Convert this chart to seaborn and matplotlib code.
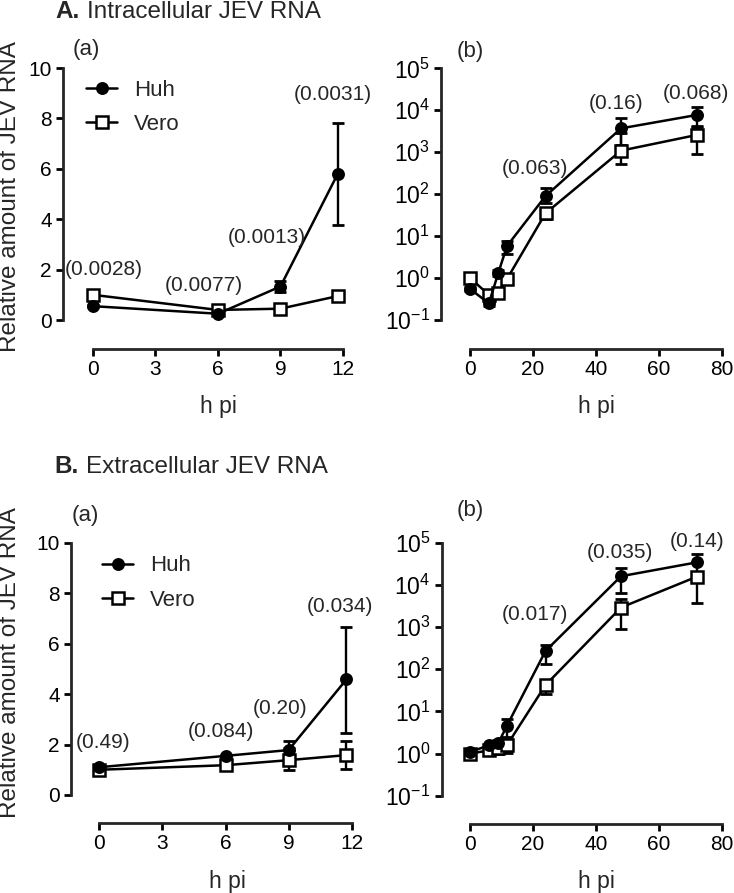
import matplotlib
matplotlib.use('Agg')
import matplotlib.pyplot as plt
import numpy as np
import seaborn as sns
from matplotlib.ticker import FixedLocator, NullLocator

# hours post infection (last early point sits a bit left of 12)
hours = [0, 6, 9, 11.75, 24, 48, 72]

# A. intracellular JEV RNA
intra_huh = [0.55, 0.25, 1.33, 5.8, 90, 3700, 7700]
intra_huh_lo = [0.5, 0.22, 1.1, 3.77, 60, 1500, 4000]
intra_huh_hi = [0.6, 0.28, 1.55, 7.8, 138, 6400, 11700]
intra_vero = [1.0, 0.4, 0.45, 0.95, 35, 1090, 2570]
intra_vero_lo = [0.9, 0.35, 0.38, 0.75, 25, 510, 910]
intra_vero_hi = [1.1, 0.45, 0.52, 1.15, 45, 2800, 4200]
intra_p_early = ['(0.0028)', '(0.0077)', '(0.0013)', '(0.0031)']
intra_p_late = ['(0.063)', '(0.16)', '(0.068)']

# B. extracellular JEV RNA
extra_huh = [1.1, 1.55, 1.78, 4.58, 270, 16000, 34000]
extra_huh_lo = [1.0, 1.5, 1.45, 2.47, 130, 6400, 20000]
extra_huh_hi = [1.2, 1.6, 2.15, 6.65, 380, 24500, 53000]
extra_vero = [1.0, 1.18, 1.38, 1.58, 42, 2900, 15500]
extra_vero_lo = [0.9, 1.05, 1.0, 1.02, 26, 920, 3700]
extra_vero_hi = [1.1, 1.3, 1.85, 2.12, 53, 4500, 19500]
extra_p_early = ['(0.49)', '(0.084)', '(0.20)', '(0.034)']
extra_p_late = ['(0.017)', '(0.035)', '(0.14)']

sns.set_style('ticks')
plt.rcParams['font.family'] = ['Liberation Sans', 'DejaVu Sans']
plt.rcParams['mathtext.default'] = 'regular'
plt.rcParams['axes.unicode_minus'] = False

W, H = 734, 893
fig = plt.figure(figsize=(W / 100, H / 100), dpi=100)


def px_axes(left, right, bottom, top):
    # axes rect given in pixel coordinates (origin top-left)
    return fig.add_axes([left / W, 1 - bottom / H, (right - left) / W, (bottom - top) / H])


def draw_series(ax, x, y, lo, hi, marker, face, ms, label):
    y = np.asarray(y, dtype=float)
    yerr = [y - np.asarray(lo), np.asarray(hi) - y]
    ax.errorbar(x, y, yerr=yerr, fmt='none', ecolor='black', elinewidth=1.7,
                capsize=4, capthick=2, zorder=2, clip_on=False)
    sns.lineplot(x=x, y=y, ax=ax, color='black', linewidth=1.8, marker=marker,
                 markersize=ms, markerfacecolor=face, markeredgecolor='black',
                 markeredgewidth=1.8, estimator=None, sort=False, legend=False,
                 label=label, zorder=3, clip_on=False)


def style_axes(ax, xb, yb, ysize=15):
    for s in ['top', 'right']:
        ax.spines[s].set_visible(False)
    ax.spines['left'].set_linewidth(2)
    ax.spines['bottom'].set_linewidth(2)
    ax.spines['bottom'].set_bounds(*xb)
    ax.spines['left'].set_bounds(*yb)
    ax.tick_params(direction='out', length=5, width=2, labelsize=15, pad=3, colors='black')
    ax.tick_params(axis='y', labelsize=ysize)
    ax.set_xlabel('h pi', fontsize=16.5)


def early_panel(ax, huh, huh_lo, huh_hi, vero, vero_lo, vero_hi, notes, note_xy):
    n = 4
    draw_series(ax, hours[:n], vero[:n], vero_lo[:n], vero_hi[:n], 's', 'white', 8.5, 'Vero')
    draw_series(ax, hours[:n], huh[:n], huh_lo[:n], huh_hi[:n], 'o', 'black', 7.5, 'Huh')
    ax.xaxis.set_major_locator(FixedLocator([0, 3, 6, 9, 12]))
    ax.yaxis.set_major_locator(FixedLocator([0, 2, 4, 6, 8, 10]))
    style_axes(ax, (0, 12), (0, 10))
    for t, (x, y) in zip(notes, note_xy):
        ax.text(x, y, t, ha='center', va='center', fontsize=15)
    h, l = ax.get_legend_handles_labels()
    order = [l.index('Huh'), l.index('Vero')]
    return [h[i] for i in order], [l[i] for i in order]


def late_panel(ax, huh, huh_lo, huh_hi, vero, vero_lo, vero_hi, notes, note_xy):
    ax.set_yscale('log')
    draw_series(ax, hours, vero, vero_lo, vero_hi, 's', 'white', 8.5, 'Vero')
    draw_series(ax, hours, huh, huh_lo, huh_hi, 'o', 'black', 7.5, 'Huh')
    ax.xaxis.set_major_locator(FixedLocator([0, 20, 40, 60, 80]))
    ax.yaxis.set_major_locator(FixedLocator([1e-1, 1e0, 1e1, 1e2, 1e3, 1e4, 1e5]))
    ax.yaxis.set_minor_locator(NullLocator())
    style_axes(ax, (0, 80), (1e-1, 1e5), ysize=16.5)
    for t, (x, y) in zip(notes, note_xy):
        ax.text(x, y, t, ha='center', va='center', fontsize=15)


leg_kw = dict(loc='upper left', frameon=False, fontsize=16, handlelength=1.4,
              handletextpad=0.75, labelspacing=0.6, borderpad=0, borderaxespad=0)

# ---- A ----
ax1 = px_axes(63, 355, 349, 60)
ax1.set_xlim(-1.44, 12.58)
ax1.set_ylim(-1.15, 10.32)
hh, ll = early_panel(ax1, intra_huh, intra_huh_lo, intra_huh_hi, intra_vero, intra_vero_lo,
                     intra_vero_hi, intra_p_early,
                     [(0.5, 2.0), (5.3, 1.39), (8.35, 3.28), (11.5, 8.96)])
ax1.legend(hh, ll, bbox_to_anchor=(0.079, 0.932), **leg_kw)
ax1.text(0.079, 1.035, '(a)', transform=ax1.transAxes, ha='center', va='center', fontsize=16)
ax1.set_ylabel('Relative amount of JEV RNA', fontsize=17.5)
ax1.yaxis.set_label_coords(-0.182, 0.529)
ax1.yaxis.label.set_va('center')
ax1.xaxis.set_label_coords(0.531, -0.222)
ax1.xaxis.label.set_va('baseline')

ax2 = px_axes(441, 728, 349, 60)
ax2.set_xlim(-9.22, 82.0)
ax2.set_ylim(10 ** -1.691, 10 ** 5.198)
late_panel(ax2, intra_huh, intra_huh_lo, intra_huh_hi, intra_vero, intra_vero_lo,
           intra_vero_hi, intra_p_late,
           [(20.5, 10 ** 2.62), (46.4, 10 ** 4.17), (71.7, 10 ** 4.41)])
ax2.text(0.101, 1.031, '(b)', transform=ax2.transAxes, ha='center', va='center', fontsize=16)
ax2.set_ylabel('')
ax2.xaxis.set_label_coords(0.540, -0.222)
ax2.xaxis.label.set_va('baseline')

# ---- B ----
ax3 = px_axes(71, 362, 823, 530)
ax3.set_xlim(-1.346, 12.49)
ax3.set_ylim(-1.11, 10.5)
hh, ll = early_panel(ax3, extra_huh, extra_huh_lo, extra_huh_hi, extra_vero, extra_vero_lo,
                     extra_vero_hi, extra_p_early,
                     [(0.16, 2.06), (5.79, 2.5), (8.58, 3.41), (11.42, 7.45)])
ax3.legend(hh, ll, bbox_to_anchor=(0.107, 0.913), **leg_kw)
ax3.text(0.05, 1.051, '(a)', transform=ax3.transAxes, ha='center', va='center', fontsize=16)
ax3.set_ylabel('Relative amount of JEV RNA', fontsize=17.5)
ax3.yaxis.set_label_coords(-0.21, 0.546)
ax3.yaxis.label.set_va('center')
ax3.xaxis.set_label_coords(0.536, -0.222)
ax3.xaxis.label.set_va('baseline')

ax4 = px_axes(441.7, 728, 824, 530)
ax4.set_xlim(-9.0, 82.0)
ax4.set_ylim(10 ** -1.671, 10 ** 5.30)
late_panel(ax4, extra_huh, extra_huh_lo, extra_huh_hi, extra_vero, extra_vero_lo,
           extra_vero_hi, extra_p_late,
           [(20.5, 10 ** 3.285), (47.8, 10 ** 4.76), (72.2, 10 ** 5.02)])
ax4.text(0.099, 1.068, '(b)', transform=ax4.transAxes, ha='center', va='center', fontsize=16)
ax4.set_ylabel('')
ax4.xaxis.set_label_coords(0.542, -0.218)
ax4.xaxis.label.set_va('baseline')

# section titles
fig.text(55 / W, 1 - 18 / H, 'A.', fontsize=17.5, fontweight='bold', va='baseline')
fig.text(87 / W, 1 - 18 / H, 'Intracellular JEV RNA', fontsize=17.5, va='baseline')
fig.text(54 / W, 1 - 473 / H, 'B.', fontsize=17.5, fontweight='bold', va='baseline')
fig.text(86 / W, 1 - 473 / H, 'Extracellular JEV RNA', fontsize=17.5, va='baseline')

fig.savefig('out.png', dpi=100)
